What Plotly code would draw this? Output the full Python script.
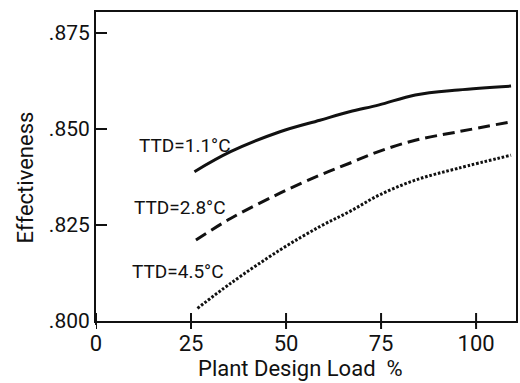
import plotly.graph_objects as go

# Effectiveness vs. plant design load for three terminal temperature differences
load_11 = [25.9, 35.4, 48.4, 58.9, 66.7, 74.5, 84.0, 95.3, 109.2]
eff_11 = [0.8389, 0.8441, 0.8493, 0.8523, 0.8545, 0.8563, 0.8589, 0.8602, 0.8612]

load_28 = [26.3, 35.4, 48.4, 58.9, 66.7, 74.5, 84.0, 95.3, 109.2]
eff_28 = [0.8211, 0.8267, 0.8333, 0.8380, 0.8411, 0.8442, 0.8471, 0.8493, 0.8519]

load_45 = [26.7, 35.4, 48.4, 58.9, 66.7, 74.5, 84.0, 95.3, 109.2]
eff_45 = [0.8033, 0.8098, 0.8185, 0.8246, 0.8285, 0.8328, 0.8367, 0.8398, 0.8432]

curve_labels = ["TTD=1.1°C", "TTD=2.8°C", "TTD=4.5°C"]
label_x = [10.7, 9.4, 8.9]
label_y = [0.8456, 0.8296, 0.8128]

x_ticks = [0, 25, 50, 75, 100]
y_ticks = [0.800, 0.825, 0.850, 0.875]
y_tick_text = [".800", ".825", ".850", ".875"]

FONT = "Roboto, Liberation Sans, sans-serif"
INK = "#111111"
PLOT_H = 309  # plot area height in px, used to size the crossing x ticks

fig = go.Figure()
fig.add_trace(go.Scatter(x=load_11, y=eff_11, mode="lines", line_shape="spline",
                         line=dict(color=INK, width=3), name=curve_labels[0]))
fig.add_trace(go.Scatter(x=load_28, y=eff_28, mode="lines", line_shape="spline",
                         line=dict(color=INK, width=3, dash="12px,6px"), name=curve_labels[1]))
fig.add_trace(go.Scatter(x=load_45, y=eff_45, mode="lines", line_shape="spline",
                         line=dict(color=INK, width=3, dash="2.6px,1.8px"), name=curve_labels[2]))

for txt, lx, ly in zip(curve_labels, label_x, label_y):
    fig.add_annotation(x=lx, y=ly, text=txt, showarrow=False, xanchor="left", yanchor="middle",
                       font=dict(family=FONT, size=19, color=INK))

# axis titles placed by hand
fig.add_annotation(xref="paper", yref="paper", x=-0.168, y=0.466, text="Effectiveness",
                   textangle=-90, showarrow=False, xanchor="center", yanchor="middle",
                   font=dict(family=FONT, size=22, color=INK))
fig.add_annotation(xref="paper", yref="paper", x=0.486, y=-0.155, text="Plant Design Load  %",
                   showarrow=False, xanchor="center", yanchor="middle",
                   font=dict(family=FONT, size=22, color=INK))

# x tick marks that cross the bottom axis line
for v in x_ticks:
    fig.add_shape(type="line", xref="x", yref="y domain", x0=v, x1=v,
                  y0=-8 / PLOT_H, y1=8 / PLOT_H, line=dict(color=INK, width=2))

x_range = [0, 110.5]
y_range = [0.8, 0.8805]

fig.update_layout(
    width=520, height=383,
    margin=dict(l=96, r=2, t=12, b=62),
    paper_bgcolor="white", plot_bgcolor="white",
    showlegend=False,
    font=dict(family=FONT, color=INK),
    xaxis=dict(range=x_range, tickvals=x_ticks, ticks="outside", ticklen=2, tickwidth=2,
               tickcolor=INK, showline=True, linewidth=2, linecolor=INK, mirror=True,
               showgrid=False, zeroline=False, tickfont=dict(size=22)),
    yaxis=dict(range=y_range, tickvals=y_ticks, ticktext=y_tick_text, ticks="inside",
               ticklen=11, tickwidth=2, tickcolor=INK, showline=True, linewidth=2,
               linecolor=INK, mirror=True, showgrid=False, zeroline=False,
               tickfont=dict(size=21)),
)

fig.write_html("out.html")
